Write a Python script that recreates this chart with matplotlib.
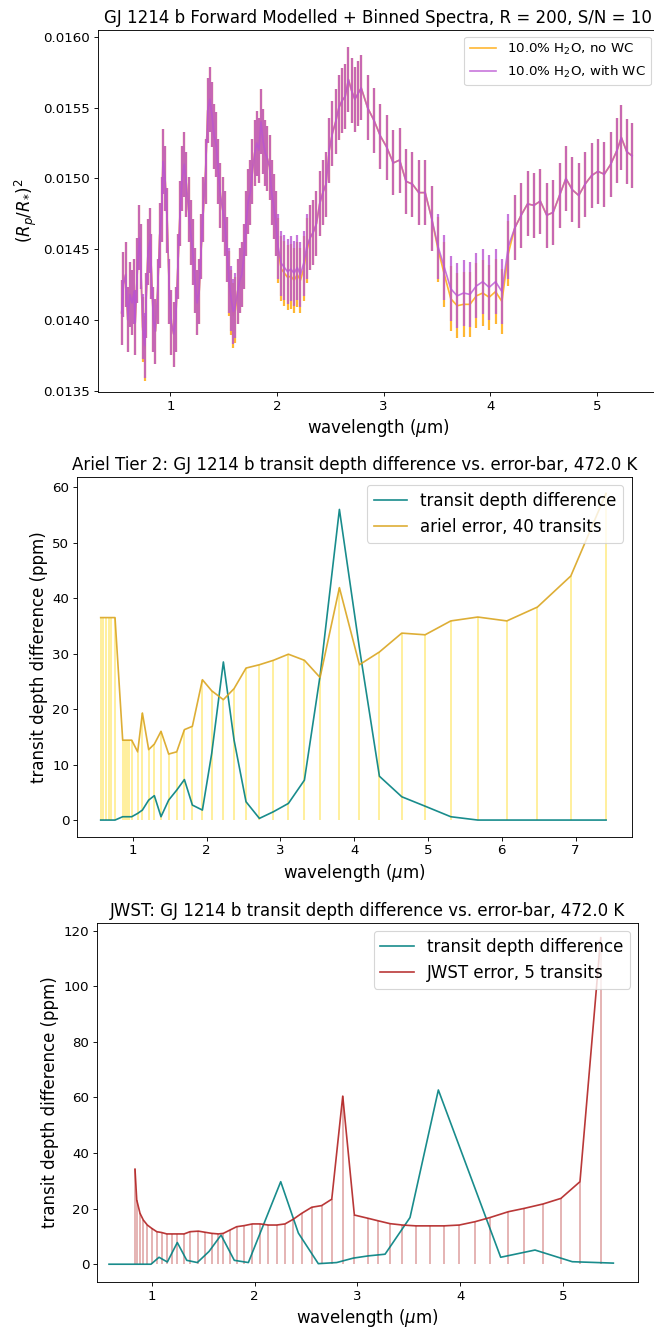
"""
Three stacked panels for GJ 1214 b: forward-modelled spectra with and
without water clouds, then Ariel and JWST transit depth difference vs.
instrument error bars.
"""

import matplotlib
matplotlib.use("Agg")
import matplotlib.pyplot as plt
from matplotlib.ticker import FormatStrFormatter

# ----------------------------- DATA -------------------------------
# Panel 1: binned spectra (wavelength in um, depth (Rp/R*)^2)
wl_spec = [
    0.543, 0.56, 0.58, 0.60, 0.62, 0.64, 0.66, 0.67, 0.69, 0.71,
    0.72, 0.74, 0.76, 0.77, 0.79, 0.81, 0.82, 0.84, 0.86, 0.88,
    0.90, 0.92, 0.93, 0.95, 0.97, 0.99, 1.01, 1.03, 1.05, 1.07,
    1.09, 1.11, 1.13, 1.15, 1.17, 1.19, 1.21, 1.23, 1.25, 1.27,
    1.29, 1.31, 1.33, 1.35, 1.37, 1.39, 1.41, 1.43, 1.45, 1.47,
    1.49, 1.51, 1.53, 1.55, 1.57, 1.59, 1.61, 1.63, 1.65, 1.67,
    1.69, 1.71, 1.73, 1.75, 1.77, 1.79, 1.81, 1.83, 1.85, 1.87,
    1.89, 1.91, 1.93, 1.95, 1.97, 1.99, 2.01, 2.04, 2.07, 2.10,
    2.13, 2.16, 2.19, 2.22, 2.25, 2.28, 2.31, 2.34, 2.37, 2.40,
    2.43, 2.46, 2.49, 2.52, 2.55, 2.58, 2.61, 2.64, 2.67, 2.70,
    2.73, 2.76, 2.79, 2.85, 2.91, 2.97, 3.03, 3.09, 3.15, 3.21,
    3.27, 3.33, 3.39, 3.45, 3.51, 3.57, 3.63, 3.69, 3.75, 3.81,
    3.87, 3.93, 3.99, 4.05, 4.11, 4.17, 4.23, 4.29, 4.35, 4.41,
    4.47, 4.53, 4.59, 4.65, 4.71, 4.77, 4.83, 4.89, 4.95, 5.01,
    5.07, 5.13, 5.19, 5.23, 5.28, 5.33,
]
depth_wc = [
    0.01405, 0.01425, 0.01432, 0.01400, 0.01418, 0.01412, 0.01420, 0.01398, 0.01435, 0.01458,
    0.01445, 0.01395, 0.01382, 0.01410, 0.01448, 0.01456, 0.01438, 0.01400, 0.01392, 0.01420,
    0.01460, 0.01478, 0.01512, 0.01500, 0.01470, 0.01420, 0.01398, 0.01390, 0.01400, 0.01438,
    0.01475, 0.01500, 0.01510, 0.01496, 0.01478, 0.01462, 0.01448, 0.01428, 0.01412, 0.01420,
    0.01452, 0.01478, 0.01505, 0.01548, 0.01556, 0.01545, 0.01530, 0.01524, 0.01505, 0.01488,
    0.01478, 0.01468, 0.01450, 0.01428, 0.01415, 0.01406, 0.01410, 0.01420, 0.01428, 0.01432,
    0.01445, 0.01468, 0.01484, 0.01490, 0.01505, 0.01518, 0.01525, 0.01520, 0.01540, 0.01526,
    0.01518, 0.01514, 0.01508, 0.01490, 0.01480, 0.01468, 0.01452, 0.01440, 0.01437, 0.01434,
    0.01436, 0.01433, 0.01437, 0.01432, 0.01440, 0.01452, 0.01458, 0.01462, 0.01468, 0.01482,
    0.01490, 0.01496, 0.01520, 0.01532, 0.01540, 0.01550, 0.01555, 0.01558, 0.01570, 0.01562,
    0.01556, 0.01560, 0.01564, 0.01550, 0.01541, 0.01530, 0.01522, 0.01511, 0.01513, 0.01498,
    0.01496, 0.01490, 0.01490, 0.01472, 0.01452, 0.01437, 0.01422, 0.01417, 0.01419, 0.01418,
    0.01424, 0.01427, 0.01423, 0.01427, 0.01420, 0.01452, 0.01465, 0.01474, 0.01482, 0.01481,
    0.01484, 0.01474, 0.01476, 0.01488, 0.01500, 0.01492, 0.01488, 0.01496, 0.01502, 0.01505,
    0.01503, 0.01510, 0.01520, 0.01529, 0.01519, 0.01516,
]
depth_nowc = [
    0.01405, 0.01425, 0.01432, 0.01400, 0.01418, 0.01412, 0.01420, 0.01398, 0.01435, 0.01458,
    0.01445, 0.01393, 0.01380, 0.01410, 0.01448, 0.01456, 0.01438, 0.01400, 0.01392, 0.01420,
    0.01460, 0.01478, 0.01512, 0.01500, 0.01470, 0.01420, 0.01398, 0.01390, 0.01400, 0.01438,
    0.01475, 0.01500, 0.01510, 0.01496, 0.01478, 0.01462, 0.01448, 0.01428, 0.01412, 0.01420,
    0.01452, 0.01478, 0.01505, 0.01548, 0.01556, 0.01545, 0.01530, 0.01524, 0.01505, 0.01488,
    0.01478, 0.01468, 0.01450, 0.01426, 0.01412, 0.01403, 0.01407, 0.01420, 0.01428, 0.01432,
    0.01445, 0.01468, 0.01484, 0.01490, 0.01505, 0.01518, 0.01525, 0.01520, 0.01540, 0.01526,
    0.01518, 0.01514, 0.01508, 0.01490, 0.01480, 0.01468, 0.01449, 0.01436, 0.01433, 0.01430,
    0.01431, 0.01428, 0.01432, 0.01428, 0.01436, 0.01449, 0.01458, 0.01462, 0.01468, 0.01482,
    0.01490, 0.01496, 0.01520, 0.01532, 0.01540, 0.01550, 0.01555, 0.01558, 0.01570, 0.01562,
    0.01556, 0.01560, 0.01564, 0.01550, 0.01541, 0.01530, 0.01522, 0.01511, 0.01513, 0.01498,
    0.01496, 0.01490, 0.01490, 0.01472, 0.01450, 0.01432, 0.01415, 0.01410, 0.01411, 0.01411,
    0.01417, 0.01419, 0.01416, 0.01420, 0.01413, 0.01447, 0.01465, 0.01474, 0.01482, 0.01481,
    0.01484, 0.01474, 0.01476, 0.01488, 0.01500, 0.01492, 0.01488, 0.01496, 0.01502, 0.01505,
    0.01503, 0.01510, 0.01520, 0.01529, 0.01519, 0.01516,
]
spec_err = 0.00023

# Panel 2: Ariel Tier 2 (ppm)
wl_ariel = [
    0.566, 0.602, 0.638, 0.674, 0.710, 0.760, 0.864, 0.896, 0.927, 0.954,
    0.986, 1.067, 1.131, 1.216, 1.293, 1.383, 1.487, 1.596, 1.700, 1.808,
    1.944, 2.070, 2.228, 2.373, 2.535, 2.716, 2.906, 3.109, 3.326, 3.538,
    3.800, 4.071, 4.342, 4.645, 4.961, 5.309, 5.675, 6.068, 6.483, 6.935,
    7.413,
]
diff_ariel = [
    0.0, 0.0, 0.0, 0.0, 0.0, 0.0, 0.6, 0.6, 0.6, 0.6,
    0.6, 1.2, 1.8, 3.6, 4.4, 0.6, 3.6, 5.4, 7.3, 2.7,
    1.8, 12.0, 28.5, 14.4, 3.3, 0.3, 1.5, 3.0, 7.2, 26.0,
    56.0, 31.0, 7.9, 4.2, 2.5, 0.6, 0.0, 0.0, 0.0, 0.0,
    0.0,
]
err_ariel = [
    36.5, 36.5, 36.5, 36.5, 36.5, 36.5, 14.4, 14.4, 14.4, 14.4,
    14.4, 12.3, 19.3, 12.7, 13.7, 16.0, 11.9, 12.3, 16.3, 16.9,
    25.3, 23.3, 21.7, 23.7, 27.4, 28.0, 28.8, 29.9, 28.8, 25.7,
    41.9, 28.0, 30.3, 33.7, 33.4, 35.9, 36.6, 35.9, 38.4, 44.0,
    58.9,
]

# Panel 3: JWST (ppm)
wl_jwst_diff = [
    0.581, 0.990, 1.068, 1.149, 1.246, 1.338, 1.441, 1.555, 1.672, 1.801,
    1.938, 2.253, 2.425, 2.619, 2.798, 2.960, 3.106, 3.269, 3.512, 3.788,
    4.395, 4.729, 5.092, 5.492,
]
diff_jwst = [
    0.0, 0.0, 2.5, 0.8, 7.8, 1.4, 0.6, 4.6, 10.5, 1.4,
    0.6, 29.7, 11.2, 0.2, 0.6, 2.2, 3.0, 3.6, 16.8, 62.7,
    2.5, 5.1, 0.9, 0.4,
]
wl_jwst_err = [
    0.834, 0.851, 0.883, 0.915, 0.954, 0.997, 1.046, 1.094, 1.143, 1.192,
    1.247, 1.312, 1.370, 1.451, 1.516, 1.581, 1.646, 1.694, 1.759, 1.824,
    1.899, 1.977, 2.052, 2.133, 2.214, 2.295, 2.376, 2.457, 2.555, 2.652,
    2.750, 2.857, 2.970, 3.106, 3.204, 3.317, 3.437, 3.571, 3.707, 3.843,
    3.992, 4.145, 4.291, 4.470, 4.625, 4.810, 4.982, 5.167, 5.369,
]
err_jwst = [
    34.2, 23.1, 18.3, 15.9, 14.1, 12.9, 11.7, 11.4, 10.9, 10.9,
    10.9, 10.9, 11.7, 11.9, 11.5, 11.1, 10.9, 11.1, 12.3, 13.5,
    13.9, 14.5, 14.5, 14.1, 14.1, 14.5, 16.2, 18.3, 20.5, 21.1,
    23.4, 60.5, 17.7, 16.5, 15.6, 14.6, 14.1, 13.8, 13.8, 13.8,
    14.1, 15.3, 16.8, 18.9, 20.1, 21.7, 23.7, 29.7, 117.5,
]
# ------------------------------------------------------------------

W, H, DPI = 654, 1330, 80
fig = plt.figure(figsize=(W / DPI, H / DPI), dpi=DPI)


def px_axes(left, top, right, bottom):
    """Add axes from pixel edges of the reference image."""
    return fig.add_axes([left / W, 1 - bottom / H,
                         (right - left) / W, (bottom - top) / H])


# 1. Spectra: error bars only, then the connecting lines (legend uses lines)
ax1 = px_axes(98, 30, 657.6, 392)
ax1.errorbar(wl_spec, depth_nowc, yerr=spec_err, fmt="none", ecolor="orange",
             alpha=0.8, elinewidth=2)
ax1.plot(wl_spec, depth_nowc, color="orange", alpha=0.8,
         label="10.0% H$_2$O, no WC")
ax1.errorbar(wl_spec, depth_wc, yerr=spec_err, fmt="none", ecolor="mediumorchid",
             alpha=0.8, elinewidth=2)
ax1.plot(wl_spec, depth_wc, color="mediumorchid", alpha=0.8,
         label="10.0% H$_2$O, with WC")
ax1.set_xlim(0.321, 5.57)
ax1.set_ylim(0.01349, 0.01605)
ax1.yaxis.set_major_formatter(FormatStrFormatter("%.4f"))
ax1.set_title("GJ 1214 b Forward Modelled + Binned Spectra, R = 200, S/N = 10",
              fontsize=15)
ax1.set_xlabel(r"wavelength ($\mu$m)", fontsize=15)
ax1.set_ylabel(r"$(R_p/R_{*})^2$", fontsize=15)
ax1.tick_params(labelsize=12)
ax1.legend(loc="upper right", fontsize=12)

# 2. Ariel
ax2 = px_axes(77, 476.7, 631.7, 836.7)
ax2.vlines(wl_ariel, 0, err_ariel, color="gold", alpha=0.45)
ax2.plot(wl_ariel, diff_ariel, color="teal", alpha=0.9,
         label="transit depth difference")
ax2.plot(wl_ariel, err_ariel, color="goldenrod", alpha=0.9,
         label="ariel error, 40 transits")
ax2.set_xlim(0.245, 7.76)
ax2.set_ylim(-3.0, 61.9)
ax2.set_title("Ariel Tier 2: GJ 1214 b transit depth difference vs. error-bar, 472.0 K",
              fontsize=15)
ax2.set_xlabel(r"wavelength ($\mu$m)", fontsize=15)
ax2.set_ylabel("transit depth difference (ppm)", fontsize=15)
ax2.tick_params(labelsize=12)
ax2.legend(loc="upper right", fontsize=15)

# 3. JWST
ax3 = px_axes(97, 922.7, 638.3, 1282)
ax3.vlines(wl_jwst_err, 0, err_jwst, color="firebrick", alpha=0.4)
ax3.plot(wl_jwst_diff, diff_jwst, color="teal", alpha=0.9,
         label="transit depth difference")
ax3.plot(wl_jwst_err, err_jwst, color="firebrick", alpha=0.9,
         label="JWST error, 5 transits")
ax3.set_xlim(0.464, 5.735)
ax3.set_ylim(-6.4, 122.9)
ax3.set_title("JWST: GJ 1214 b transit depth difference vs. error-bar, 472.0 K",
              fontsize=15)
ax3.set_xlabel(r"wavelength ($\mu$m)", fontsize=15)
ax3.set_ylabel("transit depth difference (ppm)", fontsize=15)
ax3.tick_params(labelsize=12)
ax3.legend(loc="upper right", fontsize=15)

fig.savefig("out.png", dpi=DPI)
